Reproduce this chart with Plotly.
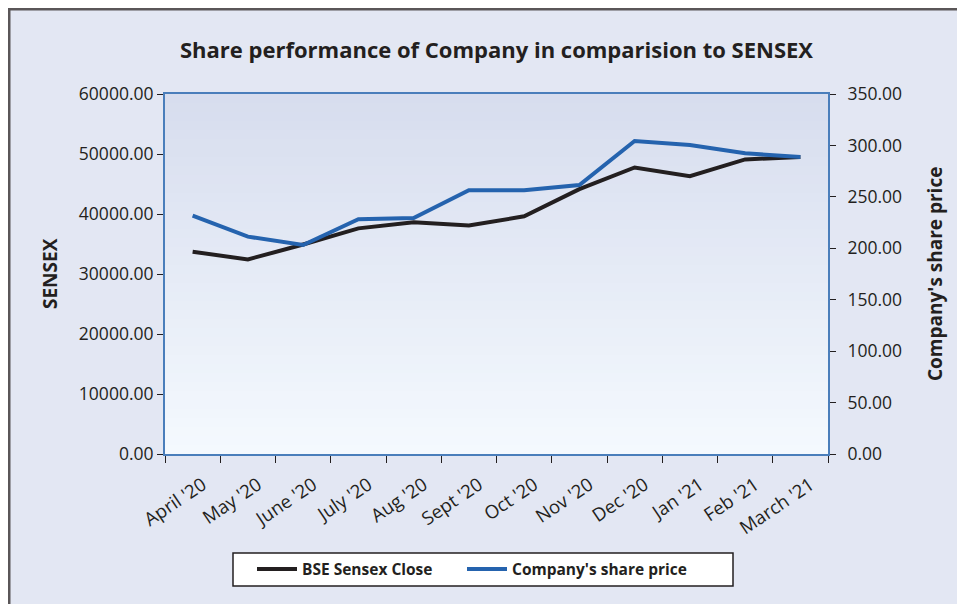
import plotly.graph_objects as go

months = ["April '20", "May '20", "June '20", "July '20", "Aug '20", "Sept '20",
          "Oct '20", "Nov '20", "Dec '20", "Jan '21", "Feb '21", "March '21"]
sensex_close = [33717, 32424, 34916, 37607, 38628, 38068,
                39614, 44150, 47751, 46286, 49100, 49509]
company_price = [231.7, 211.3, 203.2, 228.2, 229.4, 256.4,
                 256.4, 261.5, 304.3, 300.4, 292.3, 288.7]
left_ticks = [0, 10000, 20000, 30000, 40000, 50000, 60000]
right_ticks = [0, 50, 100, 150, 200, 250, 300, 350]

# page has an 8px body margin, so figure coords = page coords - 8
OFF = 8
W, H = 965 - OFF, 604 - OFF
L, R, T, B = 165 - OFF, 965 - 828, 94 - OFF, 604 - 454
pw, ph = W - L - R, H - T - B

FONT = "Open Sans"
AXIS_BLUE = "#4a7ebb"
TXT = "#231f20"


def px_x(p):  # page px -> paper x
    return (p - OFF - L) / pw


def px_y(p):  # page px -> paper y
    return (H - B - (p - OFF)) / ph


fig = go.Figure()
fig.add_trace(go.Scatter(x=months, y=sensex_close, name="<b>BSE Sensex Close</b>",
                         mode="lines", line=dict(color="#231f20", width=4),
                         yaxis="y"))
fig.add_trace(go.Scatter(x=months, y=company_price, name="<b>Company's share price</b>",
                         mode="lines", line=dict(color="#2563ae", width=4),
                         yaxis="y2"))
# empty legend slot so the last real entry's text is not clipped
fig.add_trace(go.Scatter(x=[None], y=[None], name=" ", mode="lines",
                         line=dict(width=0, color="rgba(0,0,0,0)"),
                         hoverinfo="skip", yaxis="y"))

shapes = []
shapes.append(dict(type="rect", xref="paper", yref="paper",
                   x0=px_x(8), x1=px_x(980), y0=px_y(620), y1=px_y(8),
                   fillcolor="#e3e7f3", line=dict(width=0), layer="below"))
shapes.append(dict(type="line", xref="paper", yref="paper",
                   x0=px_x(9), x1=px_x(9), y0=px_y(620), y1=px_y(8),
                   line=dict(color="#5a5658", width=3), layer="below"))
shapes.append(dict(type="line", xref="paper", yref="paper",
                   x0=px_x(8), x1=px_x(980), y0=px_y(9), y1=px_y(9),
                   line=dict(color="#5a5658", width=3), layer="below"))

n = 40
top_c = (215, 221, 238)
bot_c = (244, 249, 254)
for i in range(n):
    f = i / (n - 1)
    c = tuple(round(top_c[k] + (bot_c[k] - top_c[k]) * f) for k in range(3))
    shapes.append(dict(type="rect", xref="paper", yref="paper",
                       x0=0, x1=1, y0=1 - (i + 1) / n - 0.002, y1=1 - i / n,
                       fillcolor="rgb(%d,%d,%d)" % c, line=dict(width=0),
                       layer="below"))
shapes.append(dict(type="rect", xref="paper", yref="paper",
                   x0=px_x(233), x1=px_x(733), y0=px_y(586), y1=px_y(553),
                   fillcolor="white", line=dict(color="#231f20", width=1.5),
                   layer="below"))

annotations = [
    dict(text="<b>SENSEX</b>", xref="paper", yref="paper", x=px_x(50), y=px_y(274),
         xanchor="center", yanchor="middle", textangle=-90, showarrow=False,
         font=dict(size=19, family=FONT, color=TXT)),
    dict(text="<b>Company's share price</b>", xref="paper", yref="paper",
         x=px_x(935), y=px_y(274), xanchor="center", yanchor="middle",
         textangle=-90, showarrow=False,
         font=dict(size=19, family=FONT, color=TXT)),
]

fig.update_layout(
    width=W, height=H,
    margin=dict(l=L, r=R, t=T, b=B, autoexpand=False),
    paper_bgcolor="white",
    plot_bgcolor="rgba(0,0,0,0)",
    font=dict(family=FONT, color=TXT),
    title=dict(text="<b>Share performance of Company in comparision to SENSEX</b>",
               x=0.5, xanchor="center", xref="paper", y=1 - (50 - OFF) / H,
               yanchor="middle",
               font=dict(size=22, family=FONT, color=TXT)),
    shapes=shapes,
    annotations=annotations,
    showlegend=True,
    legend=dict(orientation="h", x=px_x(252), xanchor="left",
                y=px_y(569.5), yanchor="middle",
                bgcolor="rgba(0,0,0,0)", font=dict(size=15.5, family=FONT, color=TXT),
                entrywidth=155, itemwidth=40, traceorder="normal"),
    xaxis=dict(type="category", tickson="boundaries", ticks="outside", ticklen=7,
               tickcolor=TXT, showline=True, linecolor=AXIS_BLUE, linewidth=2,
               mirror=True, showgrid=False, tickangle=-34,
               ticklabelshift=10, ticklabelstandoff=11,
               tickfont=dict(size=18.5, family=FONT, color=TXT),
               range=[-0.5, 11.5], fixedrange=True),
    yaxis=dict(range=[0, 60000], tickvals=left_ticks,
               ticktext=["%.2f" % v for v in left_ticks],
               ticks="outside", ticklen=6, tickcolor=TXT,
               showline=True, linecolor=AXIS_BLUE, linewidth=2,
               showgrid=False, zeroline=False,
               tickfont=dict(size=17.5, family=FONT, color=TXT)),
    yaxis2=dict(range=[0, 350], tickvals=right_ticks,
                ticktext=["%.2f" % v for v in right_ticks],
                overlaying="y", side="right",
                ticks="outside", ticklen=6, tickcolor=TXT,
                ticklabelstandoff=8,
                showline=True, linecolor=AXIS_BLUE, linewidth=2,
                showgrid=False, zeroline=False,
                tickfont=dict(size=17.5, family=FONT, color=TXT)),
)

fig.write_html("out.html")
